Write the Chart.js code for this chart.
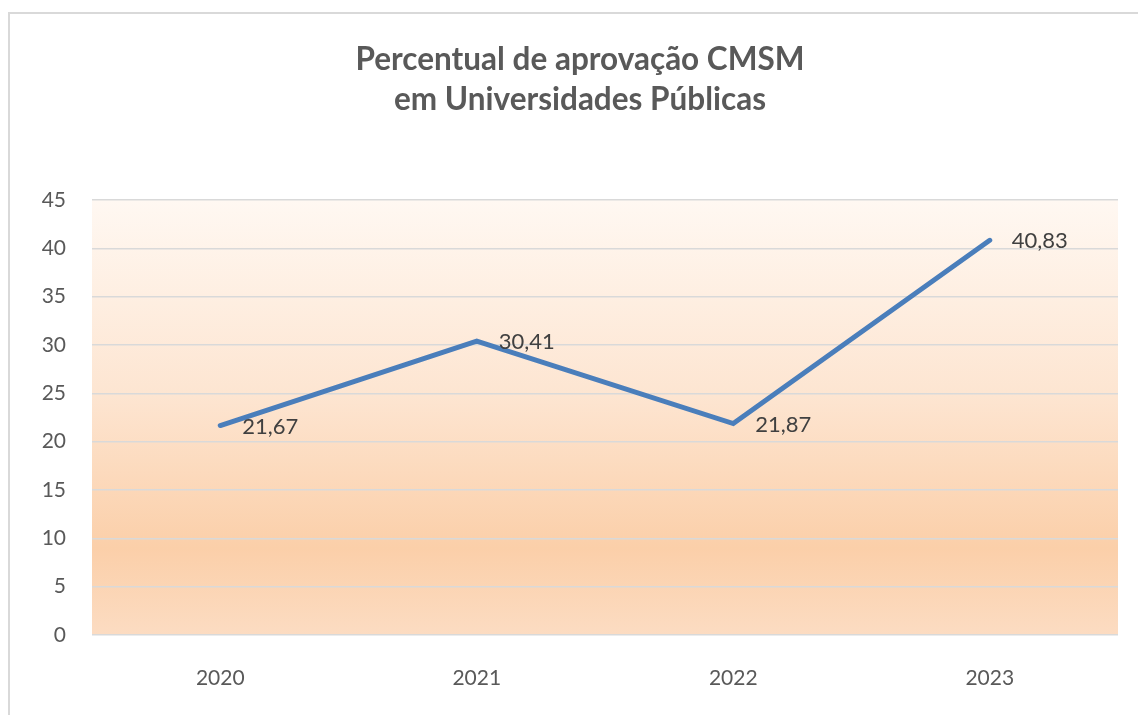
<!DOCTYPE html>
<html>
<head>
<meta charset="utf-8">
<script src="https://cdn.jsdelivr.net/npm/chart.js@4"></script>
<style>
  html, body { margin: 0; padding: 0; background: #ffffff; }
  #wrap { width: 1138px; height: 715px; position: relative; }
</style>
</head>
<body>
<div id="wrap"><canvas id="c" width="1138" height="715"></canvas></div>
<script>
const categories = ["2020", "2021", "2022", "2023"];
const values = [21.67, 30.41, 21.87, 40.83];
const valueLabels = ["21,67", "30,41", "21,87", "40,83"];
const titleLines = ["Percentual de aprovação CMSM", "em Universidades Públicas"];
const yMin = 0, yMax = 45, yStep = 5;

const FONT = "Lato, 'Open Sans', sans-serif";

const frame = {
  id: 'frame',
  beforeDraw(chart) {
    const ctx = chart.ctx;
    ctx.save();
    ctx.strokeStyle = '#d9d9d9';
    ctx.lineWidth = 2;
    ctx.strokeRect(9, 13, 1140, 720);
    const a = chart.chartArea;
    const g = ctx.createLinearGradient(0, a.top, 0, a.bottom);
    g.addColorStop(0, '#fff8f2');
    g.addColorStop(0.45, '#fde5d1');
    g.addColorStop(0.8, '#fbcfa9');
    g.addColorStop(1, '#fcdcc2');
    ctx.fillStyle = g;
    ctx.fillRect(a.left, a.top, a.right - a.left, a.bottom - a.top);
    ctx.restore();
  }
};

const valueLabelPlugin = {
  id: 'valueLabels',
  afterDatasetsDraw(chart) {
    const ctx = chart.ctx;
    const meta = chart.getDatasetMeta(0);
    ctx.save();
    ctx.font = "22px " + FONT;
    ctx.fillStyle = '#404040';
    ctx.textAlign = 'left';
    ctx.textBaseline = 'middle';
    meta.data.forEach((pt, i) => {
      ctx.fillText(valueLabels[i], pt.x + 22, pt.y + 1);
    });
    ctx.restore();
  }
};

new Chart(document.getElementById('c'), {
  type: 'line',
  data: {
    labels: categories,
    datasets: [{
      data: values,
      borderColor: '#4a7ebb',
      borderWidth: 5,
      borderCapStyle: 'round',
      borderJoinStyle: 'miter',
      pointRadius: 0,
      tension: 0,
      fill: false
    }]
  },
  options: {
    responsive: false,
    animation: false,
    layout: { padding: { left: 42, right: 20, top: 0, bottom: 22 } },
    plugins: {
      legend: { display: false },
      tooltip: { enabled: false },
      title: {
        display: true,
        text: titleLines,
        color: '#595959',
        font: { family: FONT, size: 31.5, weight: 'bold', lineHeight: 1.27 },
        padding: { top: 40, bottom: 80 }
      }
    },
    scales: {
      x: {
        offset: true,
        grid: { display: false, drawTicks: false },
        border: { display: false },
        ticks: { color: '#595959', font: { family: FONT, size: 21 }, padding: 31 },
        afterFit(axis) { axis.height = 58; }
      },
      y: {
        min: yMin, max: yMax,
        ticks: { stepSize: yStep, color: '#595959', font: { family: FONT, size: 21 }, padding: 26 },
        grid: { color: '#d9d9d9', lineWidth: 1.5, drawTicks: false },
        border: { display: false },
        afterFit(axis) { axis.width = 50; }
      }
    }
  },
  plugins: [frame, valueLabelPlugin]
});
</script>
</body>
</html>
